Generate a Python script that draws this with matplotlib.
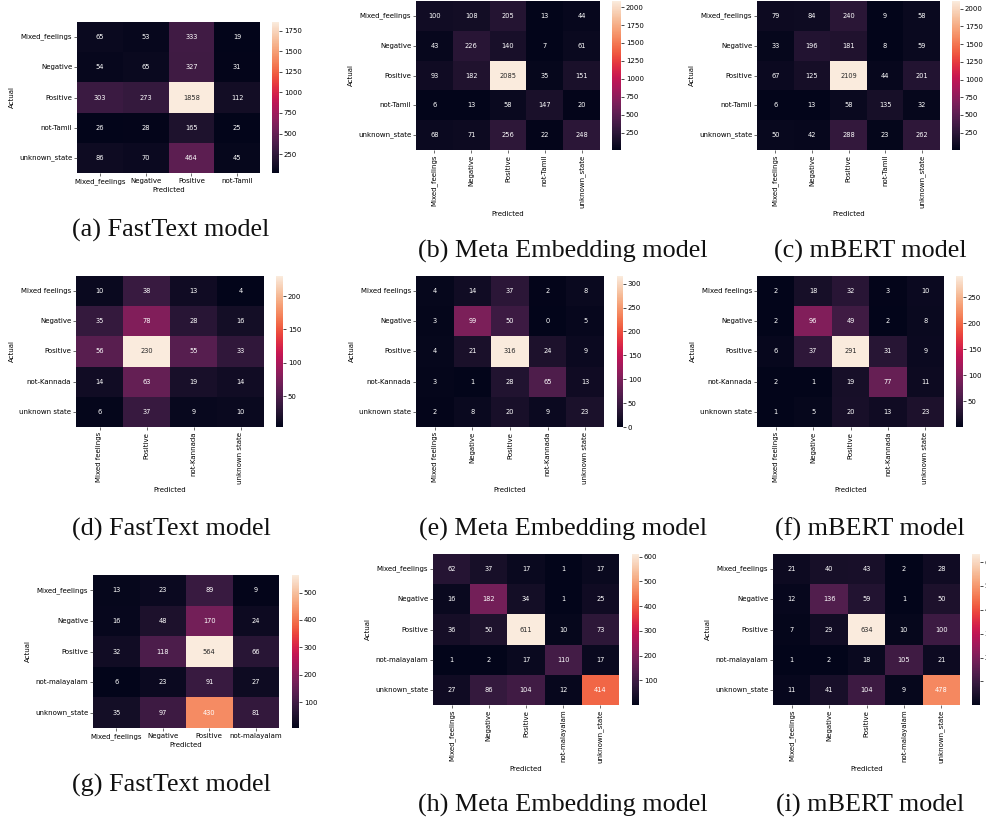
"""
Matrices de confusión — FastText / Meta Embedding / mBERT
Tamil (fila 1), Kannada (fila 2), Malayalam (fila 3).
"""
import numpy as np
import matplotlib
matplotlib.use("Agg")
import matplotlib.pyplot as plt
import seaborn as sns

# ── Etiquetas ─────────────────────────────────────────────────────────────────
tamil_rows = ["Mixed_feelings", "Negative", "Positive", "not-Tamil", "unknown_state"]
tamil_cols_ft = ["Mixed_feelings", "Negative", "Positive", "not-Tamil"]
kannada_rows = ["Mixed feelings", "Negative", "Positive", "not-Kannada", "unknown state"]
kannada_cols_ft = ["Mixed feelings", "Positive", "not-Kannada", "unknown state"]
mal_rows = ["Mixed_feelings", "Negative", "Positive", "not-malayalam", "unknown_state"]
mal_cols_ft = ["Mixed_feelings", "Negative", "Positive", "not-malayalam"]

# ── Datos ─────────────────────────────────────────────────────────────────────
cm_a = [[65, 53, 333, 19], [54, 65, 327, 31], [303, 273, 1858, 112],
        [26, 28, 165, 25], [86, 70, 464, 45]]
cm_b = [[100, 108, 205, 13, 44], [43, 226, 140, 7, 61], [93, 182, 2085, 35, 151],
        [6, 13, 58, 147, 20], [68, 71, 256, 22, 248]]
cm_c = [[79, 84, 240, 9, 58], [33, 196, 181, 8, 59], [67, 125, 2109, 44, 201],
        [6, 13, 58, 135, 32], [50, 42, 288, 23, 262]]
cm_d = [[10, 38, 13, 4], [35, 78, 28, 16], [56, 230, 55, 33],
        [14, 63, 19, 14], [6, 37, 9, 10]]
cm_e = [[4, 14, 37, 2, 8], [3, 99, 50, 0, 5], [4, 21, 316, 24, 9],
        [3, 1, 28, 65, 13], [2, 8, 20, 9, 23]]
cm_f = [[2, 18, 32, 3, 10], [2, 96, 49, 2, 8], [6, 37, 291, 31, 9],
        [2, 1, 19, 77, 11], [1, 5, 20, 13, 23]]
cm_g = [[13, 23, 89, 9], [16, 48, 170, 24], [32, 118, 564, 66],
        [6, 23, 91, 27], [35, 97, 430, 81]]
cm_h = [[62, 37, 17, 1, 17], [16, 182, 34, 1, 25], [36, 50, 611, 10, 73],
        [1, 2, 17, 110, 17], [27, 86, 104, 12, 414]]
cm_i = [[21, 40, 43, 2, 28], [12, 136, 59, 1, 50], [7, 29, 634, 10, 100],
        [1, 2, 18, 105, 21], [11, 41, 104, 9, 478]]

cbar_ticks_a = [250, 500, 750, 1000, 1250, 1500, 1750]
cbar_ticks_bc = [250, 500, 750, 1000, 1250, 1500, 1750, 2000]
cbar_ticks_d = [50, 100, 150, 200]
cbar_ticks_e = [0, 50, 100, 150, 200, 250, 300]
cbar_ticks_f = [50, 100, 150, 200, 250]
cbar_ticks_g = [100, 200, 300, 400, 500]
cbar_ticks_hi = [100, 200, 300, 400, 500, 600]

captions = ["(a) FastText model", "(b) Meta Embedding model", "(c) mBERT model",
            "(d) FastText model", "(e) Meta Embedding model", "(f) mBERT model",
            "(g) FastText model", "(h) Meta Embedding model", "(i) mBERT model"]

# ── Lienzo ────────────────────────────────────────────────────────────────────
W, H = 986, 827
fig = plt.figure(figsize=(W / 100, H / 100), dpi=100)
fig.patch.set_facecolor("white")

FS = 5.0      # ticks / labels
FS_ANN = 4.8  # anotaciones
FS_CB = 5.0


def px_axes(x0, x1, y0, y1):
    """Ejes a partir de coordenadas en píxeles (origen arriba-izquierda)."""
    return fig.add_axes([x0 / W, 1 - y1 / H, (x1 - x0) / W, (y1 - y0) / H])


def panel(cm, rows, cols, box, cbx, ticks, rot_x):
    ax = px_axes(*box)
    cax = px_axes(cbx[0], cbx[1], box[2], box[3])
    sns.heatmap(np.array(cm), annot=True, fmt="d", ax=ax, cbar_ax=cax,
                xticklabels=cols, yticklabels=rows,
                annot_kws={"size": FS_ANN})
    ax.set_xticklabels(cols, rotation=rot_x, fontsize=FS)
    ax.set_yticklabels(rows, rotation=0, fontsize=FS)
    ax.tick_params(length=2, width=0.5, pad=1.5, color="#333333")
    ax.set_xlabel("Predicted", fontsize=FS, labelpad=2)
    ax.set_ylabel("Actual", fontsize=FS, labelpad=3)
    cax.set_yticks(ticks)
    cax.tick_params(labelsize=FS_CB, length=2, width=0.5, pad=1.5)


panel(cm_a, tamil_rows, tamil_cols_ft, (77, 260, 22, 173), (272, 279), cbar_ticks_a, 0)
panel(cm_b, tamil_rows, tamil_rows, (416, 600, 1, 150), (612, 621), cbar_ticks_bc, 90)
panel(cm_c, tamil_rows, tamil_rows, (757, 940, 1, 150), (952, 960), cbar_ticks_bc, 90)
panel(cm_d, kannada_rows, kannada_cols_ft, (76, 264, 276, 427), (276, 283), cbar_ticks_d, 90)
panel(cm_e, kannada_rows, kannada_rows, (416, 604, 276, 427), (617, 623), cbar_ticks_e, 90)
panel(cm_f, kannada_rows, kannada_rows, (757, 944, 276, 427), (956, 963), cbar_ticks_f, 90)
panel(cm_g, mal_rows, mal_cols_ft, (93, 279, 575, 728), (292, 299), cbar_ticks_g, 0)
panel(cm_h, mal_rows, mal_rows, (433, 619, 554, 705), (632, 639), cbar_ticks_hi, 90)
panel(cm_i, mal_rows, mal_rows, (773, 960, 554, 705), (972, 980), cbar_ticks_hi, 90)

# ── Pies de figura ────────────────────────────────────────────────────────────
cap_xy = [(171, 230), (563, 251), (870, 251),
          (171, 529), (563, 529), (870, 529),
          (171, 785), (563, 805), (870, 805)]
for txt, (cx, cy) in zip(captions, cap_xy):
    fig.text(cx / W, 1 - cy / H, txt, ha="center", va="center",
             fontsize=18.8, family="Liberation Serif", color="#111111")

fig.savefig("out.png", dpi=100, facecolor="white")
